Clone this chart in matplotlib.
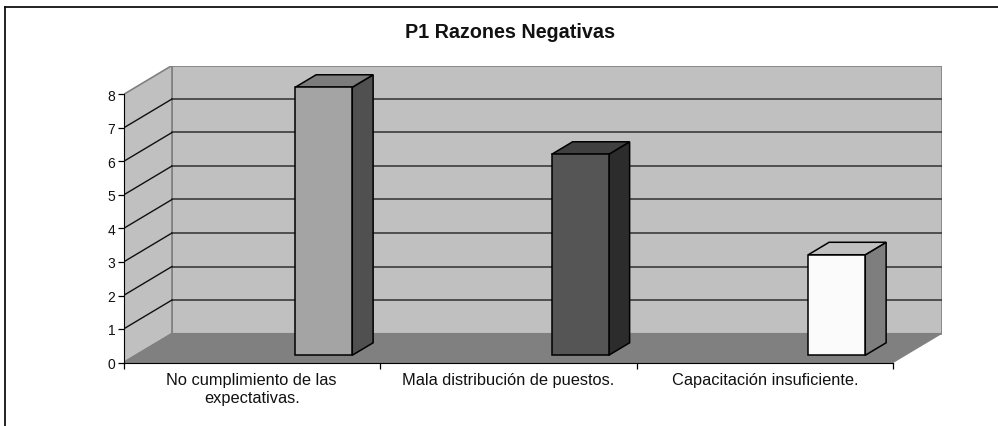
import matplotlib
matplotlib.use('Agg')
import matplotlib.pyplot as plt
from matplotlib.patches import Polygon, Rectangle

title = 'P1 Razones Negativas'
categories = ['No cumplimiento de las\nexpectativas.',
              'Mala distribución de puestos.',
              'Capacitación insuficiente.']
values = [8, 6, 3]
front_colors = ['#a4a4a4', '#555555', '#fbfbfb']
top_colors = ['#7c7c7c', '#404040', '#c0c0c0']
side_colors = ['#505050', '#2c2c2c', '#7e7e7e']
y_ticks = [0, 1, 2, 3, 4, 5, 6, 7, 8]

W, H = 998, 427

plt.rcParams['font.family'] = ['Liberation Sans', 'DejaVu Sans']
fig = plt.figure(figsize=(W / 100, H / 100), dpi=100)

# marco exterior: solo arriba e izquierda, llega hasta el borde de la imagen
fig.add_artist(plt.Line2D([4.5 / W, 4.5 / W], [0, 1 - 7.5 / H], color='#101010', linewidth=1.3))
fig.add_artist(plt.Line2D([4.5 / W, 1], [1 - 7.5 / H, 1 - 7.5 / H], color='#101010', linewidth=1.3))

# ejes: x en categorias, y en valores
ax = fig.add_axes([123.5 / W, 1 - 363.5 / H, (942 - 123.5) / W, (363.5 - 66.5) / H])
ax.set_xlim(0, (942 - 123.5) / 256.5)
ax.set_ylim(0, (363.5 - 66.5) / 33.5)
ax.patch.set_visible(False)

# profundidad de la caja 3D en unidades de datos
depth_x = 48.5 / 256.5
depth_y = 29 / 33.5
ymax = 8
nx = len(categories)

# pared del fondo, pared lateral y piso
ax.add_patch(Rectangle((depth_x, depth_y), nx, ymax, facecolor='#c0c0c0', edgecolor='#808080', linewidth=1.2, zorder=1))
ax.add_patch(Polygon([(0, 0), (depth_x, depth_y), (depth_x, depth_y + ymax), (0, ymax)],
                     facecolor='#c0c0c0', edgecolor='#808080', linewidth=1.2, zorder=1))
ax.add_patch(Polygon([(0, 0), (nx, 0), (nx + depth_x, depth_y), (depth_x, depth_y)],
                     facecolor='#808080', edgecolor='#808080', linewidth=0.8, zorder=1))

# lineas de la cuadricula
for v in y_ticks[1:-1]:
    ax.plot([depth_x, depth_x + nx], [v + depth_y, v + depth_y], color='#303030', linewidth=1.1, zorder=2)
    ax.plot([0, depth_x], [v, v + depth_y], color='#101010', linewidth=1.0, zorder=2)

# barras
bar_width = 57 / 256.5
bar_d0 = 0.25
bar_d1 = 0.68
bar_shift = 0.2335
for i, val in enumerate(values):
    x0 = i + 0.5 + bar_shift - bar_width / 2 + bar_d0 * depth_x
    x1 = x0 + bar_width
    y0 = bar_d0 * depth_y
    y1 = val + y0
    dx = (bar_d1 - bar_d0) * depth_x
    dy = (bar_d1 - bar_d0) * depth_y
    ax.add_patch(Polygon([(x1, y0), (x1 + dx, y0 + dy), (x1 + dx, y1 + dy), (x1, y1)],
                         facecolor=side_colors[i], edgecolor='black', linewidth=1.1, zorder=3))
    ax.add_patch(Polygon([(x0, y1), (x1, y1), (x1 + dx, y1 + dy), (x0 + dx, y1 + dy)],
                         facecolor=top_colors[i], edgecolor='black', linewidth=1.1, zorder=3))
    ax.add_patch(Rectangle((x0, y0), bar_width, val, facecolor=front_colors[i], edgecolor='black', linewidth=1.1, zorder=4))

# ejes visibles
for s in ['top', 'right']:
    ax.spines[s].set_visible(False)
ax.spines['left'].set_bounds(0, ymax)
ax.spines['bottom'].set_bounds(0, nx)
ax.spines['left'].set_zorder(5)
ax.spines['bottom'].set_zorder(5)
ax.set_yticks(y_ticks)
ax.tick_params(axis='y', length=4, width=0.9, labelsize=10, pad=2, labelcolor='#111111')
ax.set_xticks(range(nx + 1))
ax.set_xticklabels([])
ax.tick_params(axis='x', which='major', length=4, width=0.9)
ax.set_xticks([i + 0.5 for i in range(nx)], minor=True)
ax.set_xticklabels(categories, minor=True, fontsize=11.8, linespacing=1.3, color='#111111')
ax.tick_params(axis='x', which='minor', length=0, pad=6.5)

fig.text(510 / W, 1 - 33 / H, title, ha='center', va='center', fontsize=14.2, fontweight='bold', color='#111111')

fig.savefig('out.png', dpi=100)
